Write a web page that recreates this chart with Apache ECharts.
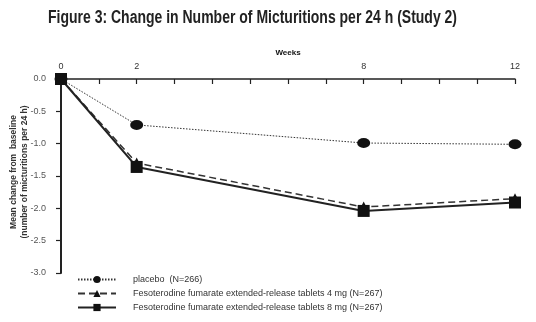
<!DOCTYPE html>
<html><head><meta charset="utf-8">
<script src="https://cdn.jsdelivr.net/npm/echarts@6/dist/echarts.min.js"></script>
<style>html,body{margin:0;padding:0;background:#fff}#c{width:536px;height:322px}</style>
</head><body><div id="c"></div>
<script>
var weeks = [0, 2, 8, 12];
var weekTickLabels = ['0', '2', '8', '12'];
var yTickLabels = ['0.0', '-0.5', '-1.0', '-1.5', '-2.0', '-2.5', '-3.0'];
var placebo = [0, -0.71, -0.99, -1.01];
var feso4 = [0, -1.30, -1.98, -1.85];
var feso8 = [0, -1.36, -2.04, -1.91];
var seriesNames = ['placebo  (N=266)', 'Fesoterodine fumarate extended-release tablets 4 mg (N=267)', 'Fesoterodine fumarate extended-release tablets 8 mg (N=267)'];
var titleText = 'Figure 3: Change in Number of Micturitions per 24 h (Study 2)';
var yName = 'Mean change from  baseline\n(number of micturitions per 24 h)';

function pairs(v){ return weeks.map(function(w,i){return [w, v[i]];}); }

var titleFont = 'bold 18px "Liberation Sans"';
var cv = document.createElement('canvas').getContext('2d');
cv.font = titleFont;
var tw = cv.measureText(titleText).width;
var sx = 409 / tw;

var chart = echarts.init(document.getElementById('c'));
var txt = '#333';
chart.setOption({
  animation: false,
  backgroundColor: '#fff',
  graphic: [{
    type: 'text', left: 48, top: 9, scaleX: sx, originX: 0,
    style: {text: titleText, font: titleFont, fill: '#222'}
  }, {
    type: 'text', x: 19, y: 172, rotation: Math.PI / 2,
    style: {text: yName, font: 'bold 8.5px "Liberation Sans"', fill: '#333', align: 'center', verticalAlign: 'middle', lineHeight: 11}
  }],
  grid: {left: 61, right: 21, top: 79, bottom: 49, containLabel: false, outerBoundsMode: 'none'},
  legend: {
    orient: 'vertical', left: 72, top: 270, itemWidth: 38, itemHeight: 9, itemGap: 5,
    textStyle: {fontFamily: 'Liberation Sans', fontSize: 9, color: txt, padding: [0,0,0,12]},
    data: seriesNames
  },
  xAxis: {
    type: 'value', position: 'top', min: 0, max: 12, interval: 1,
    name: 'Weeks', nameLocation: 'middle', nameGap: 19,
    nameTextStyle: {fontFamily: 'Liberation Sans', fontWeight: 'bold', fontSize: 8, color: '#111'},
    axisLine: {lineStyle: {color: '#222', width: 1.5}},
    axisTick: {inside: true, length: 5, lineStyle: {color: '#222', width: 1.2}},
    axisLabel: {fontFamily: 'Liberation Sans', fontSize: 9, color: txt, margin: 8,
      formatter: function(v){ var i = weeks.indexOf(v); return i >= 0 ? weekTickLabels[i] : ''; }},
    splitLine: {show: false}
  },
  yAxis: {
    type: 'value', min: -3, max: 0, interval: 0.5,
    axisLine: {lineStyle: {color: '#222', width: 2}},
    axisTick: {length: 5, lineStyle: {color: '#222', width: 1.2}},
    axisLabel: {fontFamily: 'Liberation Sans', fontSize: 9, color: '#555', margin: 15,
      formatter: function(v){ var i = Math.round(-v/0.5); return yTickLabels[i]; }},
    splitLine: {show: false}
  },
  series: [
    {name: seriesNames[0], type: 'line', data: pairs(placebo), symbol: 'circle', symbolSize: [13, 10],
     itemStyle: {color: '#111'}, lineStyle: {color: '#333', width: 1, type: [1.5, 1.5]}, z: 2},
    {name: seriesNames[1], type: 'line', data: pairs(feso4), symbol: 'triangle', symbolSize: 11,
     itemStyle: {color: '#111'}, lineStyle: {color: '#333', width: 1.5, type: [7, 4]}, z: 3},
    {name: seriesNames[2], type: 'line', data: pairs(feso8), symbol: 'rect', symbolSize: 12,
     itemStyle: {color: '#111'}, lineStyle: {color: '#222', width: 2, type: 'solid'}, z: 4}
  ]
});
</script></body></html>
